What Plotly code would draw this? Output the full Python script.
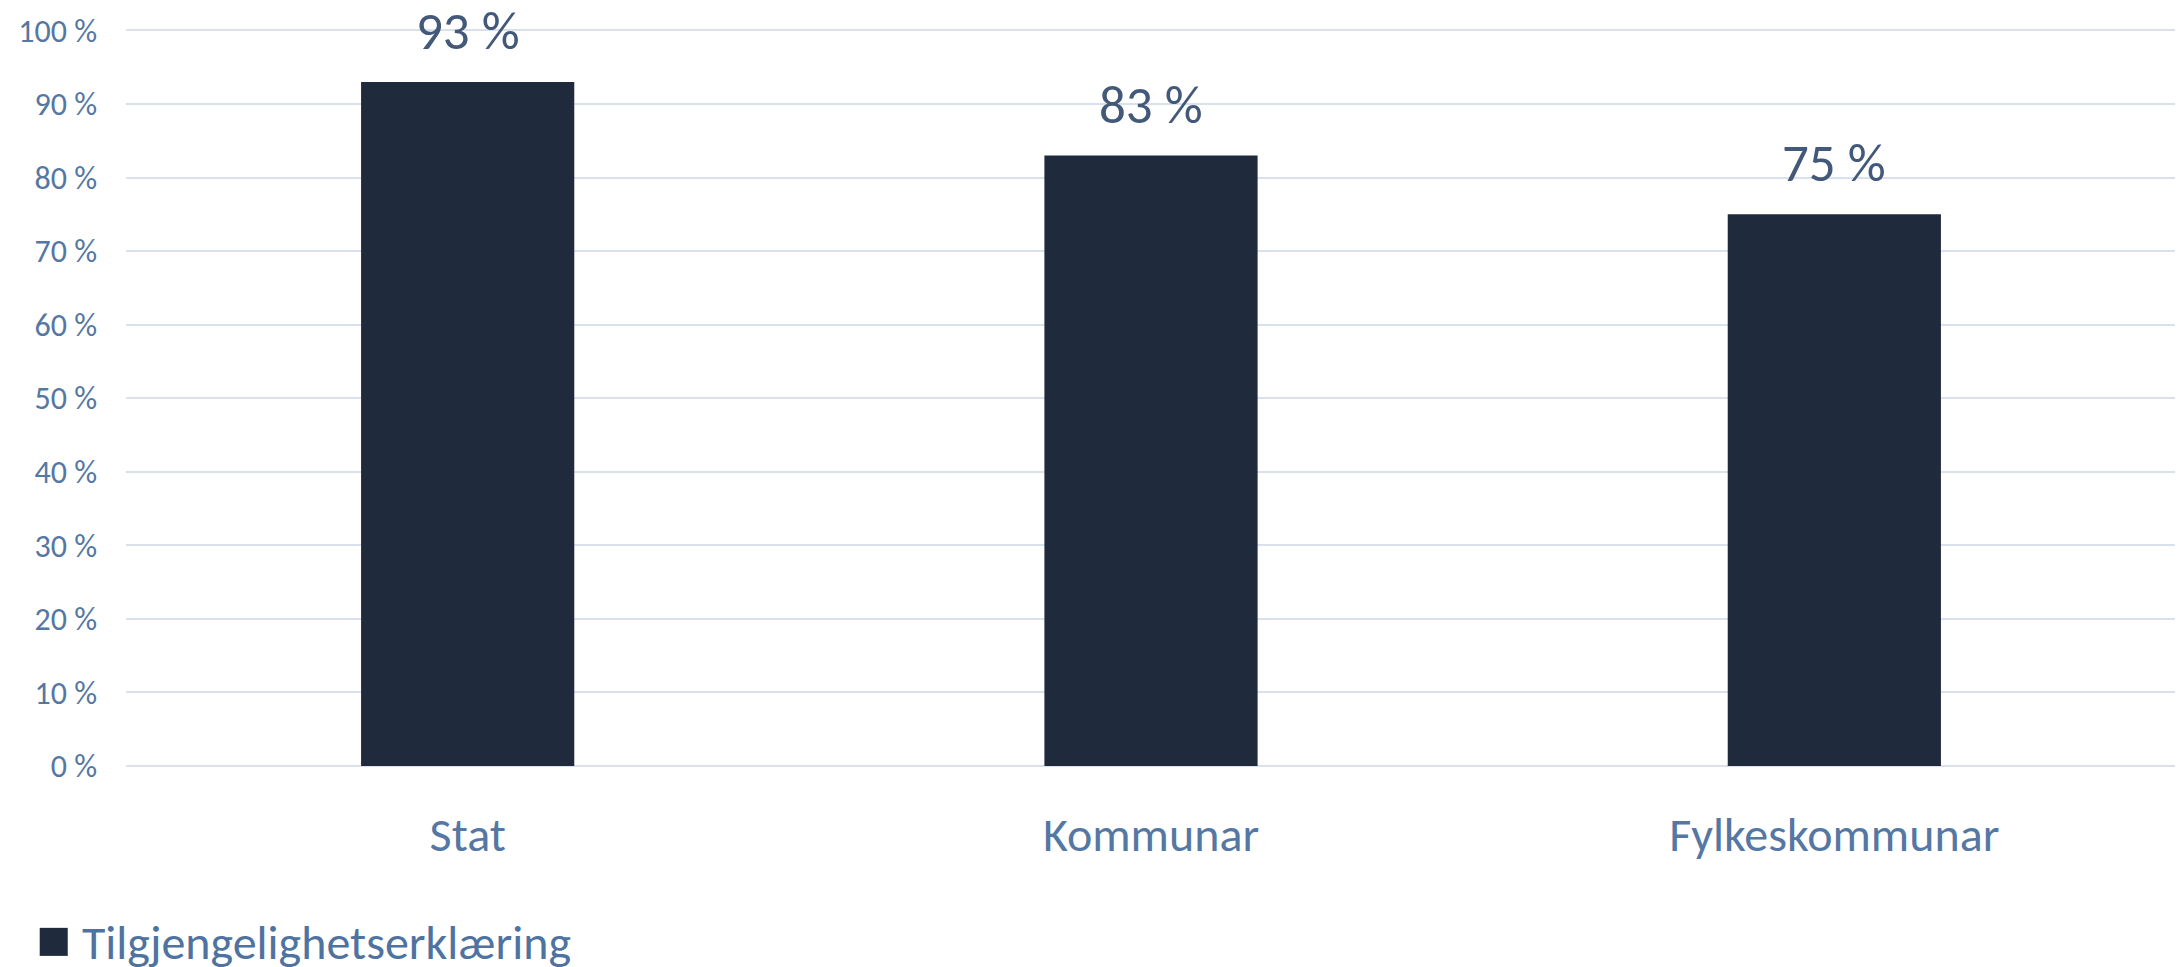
import plotly.graph_objects as go

# data
categories = ["Stat", "Kommunar", "Fylkeskommunar"]
values = [93, 83, 75]
series_name = "Tilgjengelighetserklæring"
y_ticks = list(range(0, 101, 10))
y_tick_labels = [f"{v} %" for v in y_ticks]

FONT = "Calibri, Carlito, 'Open Sans', sans-serif"
BAR_COLOR = "#1f2a3c"
AXIS_TEXT = "#5577a3"
LABEL_TEXT = "#43597a"
GRID = "#d9e1ec"

fig = go.Figure()
fig.add_trace(go.Bar(
    x=categories,
    y=values,
    name=series_name,
    marker_color=BAR_COLOR,
    marker_line_width=0,
    showlegend=False,
))

# value labels above bars
for c, v in zip(categories, values):
    fig.add_annotation(
        x=c, y=v, text=f"{v} %",
        showarrow=False, yanchor="bottom", yshift=17,
        font=dict(family=FONT, size=53, color=LABEL_TEXT),
    )

# legend drawn as text below the chart
fig.add_annotation(
    xref="paper", yref="paper", x=-0.045, y=-0.236,
    xanchor="left", yanchor="middle", showarrow=False,
    text=(f'<span style="color:{BAR_COLOR};font-size:58px">■</span>'
          f' {series_name}'),
    font=dict(family=FONT, size=48, color="#4f73a1"),
)

# page body adds an 8px offset, so the figure is a bit smaller than the window
fig.update_layout(
    width=2175,
    height=959,
    margin=dict(l=118, r=7, t=21, b=201),
    plot_bgcolor="white",
    paper_bgcolor="white",
    bargap=0.688,
    font=dict(family=FONT),
    xaxis=dict(
        automargin=False,
        showgrid=False,
        showline=False,
        ticks="",
        ticklabelstandoff=36,
        tickfont=dict(family=FONT, size=48, color=AXIS_TEXT),
    ),
    yaxis=dict(
        automargin=False,
        range=[0, 100.2],
        tickvals=y_ticks,
        ticktext=y_tick_labels,
        showgrid=True,
        gridcolor=GRID,
        gridwidth=2,
        zeroline=True,
        zerolinecolor=GRID,
        zerolinewidth=2,
        showline=False,
        ticklabelstandoff=28,
        tickfont=dict(family=FONT, size=32, color=AXIS_TEXT),
    ),
)

fig.write_html("out.html")
